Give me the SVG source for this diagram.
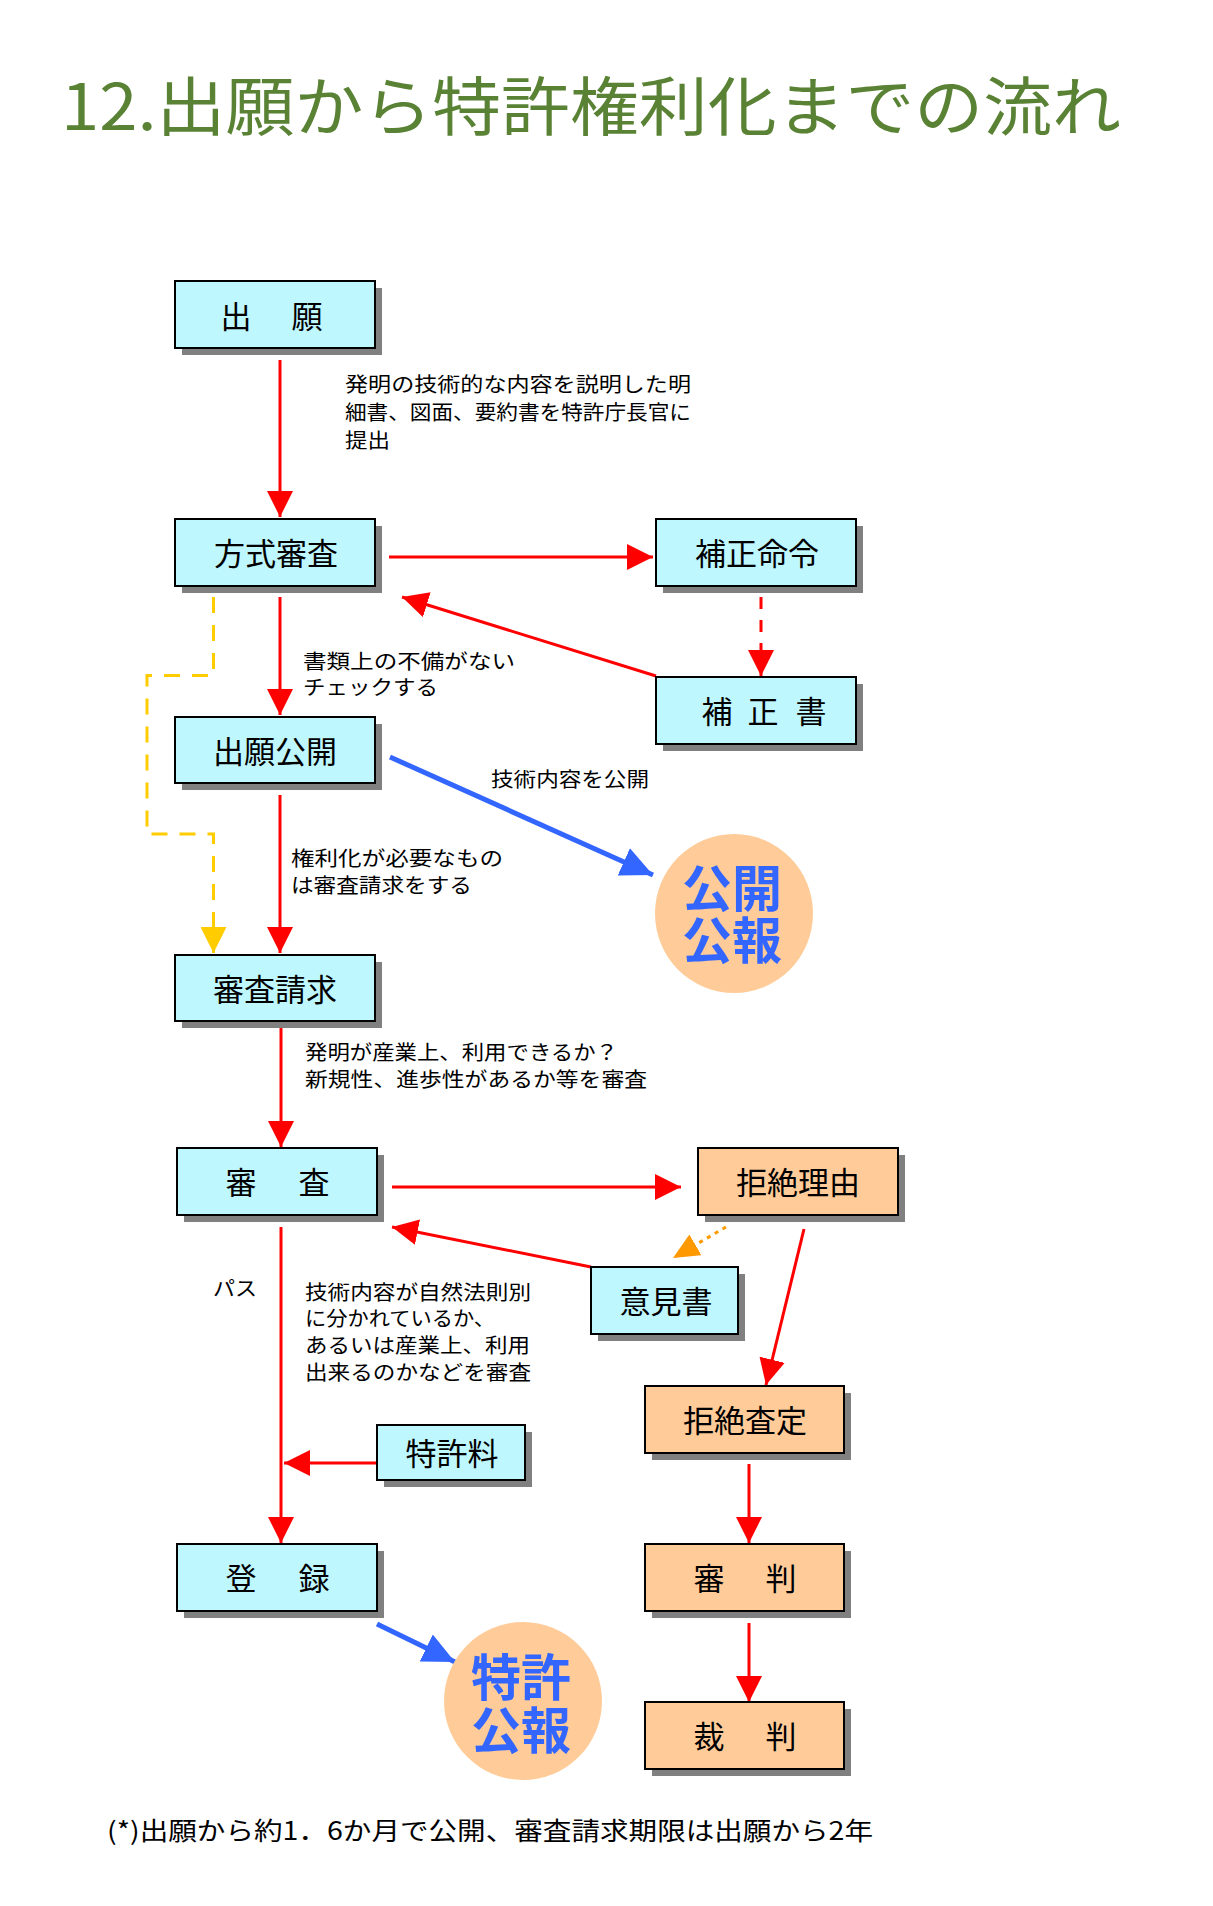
<svg xmlns="http://www.w3.org/2000/svg" width="1213" height="1906" viewBox="0 0 1213 1906">
<style>
.title{font-family:"Noto Sans CJK JP","Noto Sans",sans-serif;font-size:64px;fill:#5A8234;}
.box{stroke:#000;stroke-width:2;}
.cy{fill:#BFF7FF;}
.or{fill:#FFCC99;}
.sh{fill:#808080;}
.nt{font-family:"Noto Sans CJK JP",sans-serif;font-size:31px;fill:#000;text-anchor:middle;dominant-baseline:central;}
.lb{font-family:"Noto Sans CJK JP",sans-serif;font-size:20px;fill:#000;}
.pub{font-family:"Noto Sans CJK JP",sans-serif;font-size:50px;font-weight:bold;fill:#3366FF;text-anchor:middle;dominant-baseline:central;}
.foot{font-family:"Noto Sans CJK JP",sans-serif;font-size:25px;fill:#000;}
.red{stroke:#FF0000;stroke-width:3;fill:none;marker-end:url(#ar);}
.blue{stroke:#3366FF;stroke-width:5;fill:none;marker-end:url(#ab);}
</style>
<defs>
<marker id="ar" markerUnits="userSpaceOnUse" markerWidth="26" markerHeight="26" refX="26" refY="13" orient="auto" viewBox="0 0 26 26"><path d="M0,0 L26,13 L0,26 z" fill="#FF0000"/></marker>
<marker id="ay" markerUnits="userSpaceOnUse" markerWidth="26" markerHeight="26" refX="26" refY="13" orient="auto" viewBox="0 0 26 26"><path d="M0,0 L26,13 L0,26 z" fill="#FFCC00"/></marker>
<marker id="ab" markerUnits="userSpaceOnUse" markerWidth="32" markerHeight="30" refX="32" refY="15" orient="auto" viewBox="0 0 32 30"><path d="M0,0 L32,15 L0,30 z" fill="#3366FF"/></marker>
<marker id="ao" markerUnits="userSpaceOnUse" markerWidth="26" markerHeight="24" refX="26" refY="12" orient="auto" viewBox="0 0 26 24"><path d="M0,0 L26,12 L0,24 z" fill="#FF9900"/></marker>
</defs>
<rect width="1213" height="1906" fill="#FFFFFF"/>
<text class="title" x="61" y="130" textLength="1060" lengthAdjust="spacingAndGlyphs">12.出願から特許権利化までの流れ</text>

<g id="connectors">
<line class="red" x1="280" y1="360" x2="280" y2="517"/>
<line class="red" x1="389" y1="557" x2="653" y2="557"/>
<line class="red" x1="761" y1="597" x2="761" y2="676" stroke-dasharray="12 11"/>
<line class="red" x1="656" y1="676" x2="402" y2="597"/>
<line class="red" x1="280" y1="597" x2="280" y2="715"/>
<path d="M213.5,597 V675.5 H147 V834 H213.5 V953" stroke="#FFCC00" stroke-width="3" fill="none" stroke-dasharray="16 12" marker-end="url(#ay)"/>
<line class="blue" x1="390" y1="757" x2="653" y2="875"/>
<line class="red" x1="280" y1="795" x2="280" y2="953"/>
<line class="red" x1="281" y1="1028" x2="281" y2="1147"/>
<line class="red" x1="392" y1="1187" x2="681" y2="1187"/>
<line class="red" x1="591" y1="1267" x2="392" y2="1227"/>
<line x1="726" y1="1227" x2="673" y2="1258" stroke="#FF9900" stroke-width="3" stroke-dasharray="4 5" marker-end="url(#ao)"/>
<line class="red" x1="804" y1="1229" x2="766" y2="1385"/>
<line class="red" x1="281" y1="1227" x2="281" y2="1543"/>
<line class="red" x1="377" y1="1463" x2="284" y2="1463"/>
<line class="blue" x1="377" y1="1624" x2="455" y2="1662"/>
<line class="red" x1="749" y1="1464" x2="749" y2="1543"/>
<line class="red" x1="749" y1="1623" x2="749" y2="1702"/>
</g>

<g id="n-shutsugan">
<rect class="sh" x="182" y="288" width="200" height="67"/>
<rect class="box cy" x="175" y="281" width="200" height="67"/>
<text class="nt" x="236 271 307" y="314">出　願</text>
</g>
<g id="n-houshiki">
<rect class="sh" x="182" y="526" width="200" height="67"/>
<rect class="box cy" x="175" y="519" width="200" height="67"/>
<text class="nt" x="276" y="551">方式審査</text>
</g>
<g id="n-hoseimeirei">
<rect class="sh" x="663" y="526" width="200" height="67"/>
<rect class="box cy" x="656" y="519" width="200" height="67"/>
<text class="nt" x="757" y="551">補正命令</text>
</g>
<g id="n-hoseisho">
<rect class="sh" x="663" y="684" width="200" height="67"/>
<rect class="box cy" x="656" y="677" width="200" height="67"/>
<text class="nt" x="717 740 763 787 811" y="709">補 正 書</text>
</g>
<g id="n-koukai">
<rect class="sh" x="182" y="724" width="200" height="66"/>
<rect class="box cy" x="175" y="717" width="200" height="66"/>
<text class="nt" x="275" y="749">出願公開</text>
</g>
<g id="n-seikyu">
<rect class="sh" x="182" y="962" width="200" height="66"/>
<rect class="box cy" x="175" y="955" width="200" height="66"/>
<text class="nt" x="275" y="987">審査請求</text>
</g>
<g id="n-shinsa">
<rect class="sh" x="184" y="1155" width="200" height="67"/>
<rect class="box cy" x="177" y="1148" width="200" height="67"/>
<text class="nt" x="241 277 314" y="1180">審　査</text>
</g>
<g id="n-kyozetsuriyu">
<rect class="sh" x="705" y="1155" width="200" height="67"/>
<rect class="box or" x="698" y="1148" width="200" height="67"/>
<text class="nt" x="798" y="1180">拒絶理由</text>
</g>
<g id="n-ikensho">
<rect class="sh" x="598" y="1274" width="147" height="67"/>
<rect class="box cy" x="591" y="1267" width="147" height="67"/>
<text class="nt" x="666" y="1299">意見書</text>
</g>
<g id="n-kyozetsusatei">
<rect class="sh" x="652" y="1393" width="199" height="67"/>
<rect class="box or" x="645" y="1386" width="199" height="67"/>
<text class="nt" x="745" y="1418">拒絶査定</text>
</g>
<g id="n-tokkyoryo">
<rect class="sh" x="384" y="1432" width="148" height="55"/>
<rect class="box cy" x="377" y="1425" width="148" height="55"/>
<text class="nt" x="452" y="1451">特許料</text>
</g>
<g id="n-touroku">
<rect class="sh" x="184" y="1551" width="200" height="67"/>
<rect class="box cy" x="177" y="1544" width="200" height="67"/>
<text class="nt" x="241 277 314" y="1576">登　録</text>
</g>
<g id="n-shinpan">
<rect class="sh" x="652" y="1551" width="199" height="67"/>
<rect class="box or" x="645" y="1544" width="199" height="67"/>
<text class="nt" x="709 745 781" y="1576">審　判</text>
</g>
<g id="n-saiban">
<rect class="sh" x="652" y="1709" width="199" height="67"/>
<rect class="box or" x="645" y="1702" width="199" height="67"/>
<text class="nt" x="709 745 781" y="1734">裁　判</text>
</g>
<g id="n-koukaikouhou">
<ellipse cx="734" cy="913.5" rx="79" ry="79.5" fill="#FFCC99"/>
<text class="pub"><tspan x="732" y="885">公開</tspan><tspan x="732" y="937">公報</tspan></text>
</g>
<g id="n-tokkyokouhou">
<ellipse cx="523" cy="1701" rx="79" ry="79" fill="#FFCC99"/>
<text class="pub"><tspan x="521" y="1674">特許</tspan><tspan x="521" y="1727">公報</tspan></text>
</g>

<g id="labels">
<text class="lb" x="345" y="392" textLength="346" lengthAdjust="spacingAndGlyphs">発明の技術的な内容を説明した明</text>
<text class="lb" x="345" y="420" textLength="346" lengthAdjust="spacingAndGlyphs">細書、図面、要約書を特許庁長官に</text>
<text class="lb" x="345" y="448" textLength="45" lengthAdjust="spacingAndGlyphs">提出</text>
<text class="lb" x="303" y="669" textLength="212" lengthAdjust="spacingAndGlyphs">書類上の不備がない</text>
<text class="lb" x="303" y="695" textLength="135" lengthAdjust="spacingAndGlyphs">チェックする</text>
<text class="lb" x="491" y="787" textLength="158" lengthAdjust="spacingAndGlyphs">技術内容を公開</text>
<text class="lb" x="291" y="866" textLength="212" lengthAdjust="spacingAndGlyphs">権利化が必要なもの</text>
<text class="lb" x="291" y="893" textLength="181" lengthAdjust="spacingAndGlyphs">は審査請求をする</text>
<text class="lb" x="305" y="1060" textLength="313" lengthAdjust="spacingAndGlyphs">発明が産業上、利用できるか？</text>
<text class="lb" x="305" y="1087" textLength="342" lengthAdjust="spacingAndGlyphs">新規性、進歩性があるか等を審査</text>
<text class="lb" x="213" y="1296" textLength="44" lengthAdjust="spacingAndGlyphs">パス</text>
<text class="lb" x="305" y="1300" textLength="226" lengthAdjust="spacingAndGlyphs">技術内容が自然法則別</text>
<text class="lb" x="305" y="1326" textLength="190" lengthAdjust="spacingAndGlyphs">に分かれているか、</text>
<text class="lb" x="305" y="1353" textLength="225" lengthAdjust="spacingAndGlyphs">あるいは産業上、利用</text>
<text class="lb" x="305" y="1380" textLength="226" lengthAdjust="spacingAndGlyphs">出来るのかなどを審査</text>
</g>
<text class="foot" x="107" y="1840" textLength="766" lengthAdjust="spacingAndGlyphs">(*)出願から約1．6か月で公開、審査請求期限は出願から2年</text>
</svg>
